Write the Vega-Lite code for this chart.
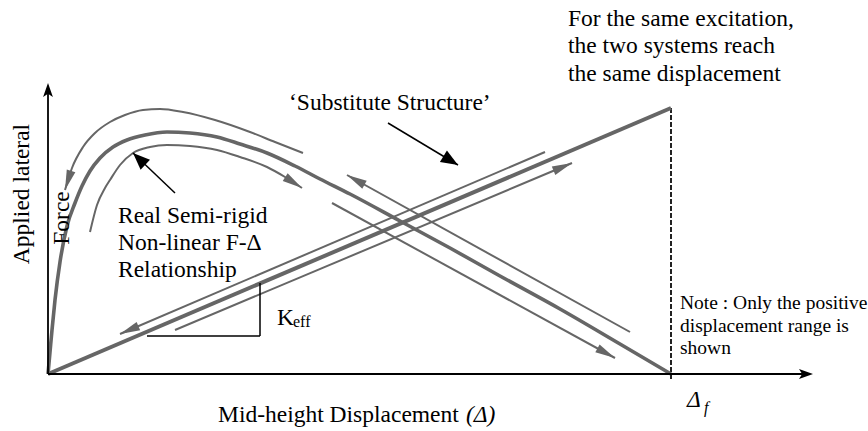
{
  "$schema": "https://vega.github.io/schema/vega-lite/v6.json",
  "width": 868,
  "height": 431,
  "autosize": {"type": "none"},
  "padding": 0,
  "background": "white",
  "config": {"view": {"stroke": null}, "font": "'Liberation Serif', 'Times New Roman', Times, 'DejaVu Serif', serif"},
  "datasets": {
    "curves": [
      {"curve": "backbone", "X": 0, "Y": 0}, {"curve": "backbone", "X": 2, "Y": 22}, {"curve": "backbone", "X": 4, "Y": 44},
      {"curve": "backbone", "X": 7, "Y": 74}, {"curve": "backbone", "X": 12, "Y": 112}, {"curve": "backbone", "X": 19, "Y": 148},
      {"curve": "backbone", "X": 27, "Y": 171}, {"curve": "backbone", "X": 34, "Y": 188}, {"curve": "backbone", "X": 42, "Y": 203},
      {"curve": "backbone", "X": 52, "Y": 216}, {"curve": "backbone", "X": 65, "Y": 227}, {"curve": "backbone", "X": 79, "Y": 234},
      {"curve": "backbone", "X": 97, "Y": 239}, {"curve": "backbone", "X": 119, "Y": 242}, {"curve": "backbone", "X": 142, "Y": 241},
      {"curve": "backbone", "X": 169, "Y": 237}, {"curve": "backbone", "X": 192, "Y": 230}, {"curve": "backbone", "X": 219, "Y": 221},
      {"curve": "backbone", "X": 247, "Y": 208}, {"curve": "backbone", "X": 272, "Y": 195}, {"curve": "backbone", "X": 302, "Y": 180},
      {"curve": "backbone", "X": 352, "Y": 153}, {"curve": "backbone", "X": 402, "Y": 126}, {"curve": "backbone", "X": 452, "Y": 98},
      {"curve": "backbone", "X": 512, "Y": 65}, {"curve": "backbone", "X": 572, "Y": 30}, {"curve": "backbone", "X": 623, "Y": 0},
      {"curve": "unload", "X": 17, "Y": 184}, {"curve": "unload", "X": 24, "Y": 206}, {"curve": "unload", "X": 35, "Y": 227},
      {"curve": "unload", "X": 47, "Y": 241}, {"curve": "unload", "X": 62, "Y": 252}, {"curve": "unload", "X": 77, "Y": 259},
      {"curve": "unload", "X": 95, "Y": 264}, {"curve": "unload", "X": 112, "Y": 265}, {"curve": "unload", "X": 135, "Y": 262},
      {"curve": "unload", "X": 167, "Y": 254}, {"curve": "unload", "X": 202, "Y": 242}, {"curve": "unload", "X": 227, "Y": 232},
      {"curve": "unload", "X": 255, "Y": 221},
      {"curve": "reload", "X": 42, "Y": 142}, {"curve": "reload", "X": 49, "Y": 169}, {"curve": "reload", "X": 57, "Y": 186},
      {"curve": "reload", "X": 62, "Y": 194}, {"curve": "reload", "X": 72, "Y": 209}, {"curve": "reload", "X": 85, "Y": 221},
      {"curve": "reload", "X": 102, "Y": 227}, {"curve": "reload", "X": 119, "Y": 229}, {"curve": "reload", "X": 142, "Y": 228},
      {"curve": "reload", "X": 169, "Y": 224}, {"curve": "reload", "X": 192, "Y": 217}, {"curve": "reload", "X": 219, "Y": 207},
      {"curve": "reload", "X": 237, "Y": 197}, {"curve": "reload", "X": 254, "Y": 186}
    ],
    "segments": [
      {"kind": "axis", "X": 0, "Y": 0, "X2": 760, "Y2": 0},
      {"kind": "axis", "X": 0, "Y": 0, "X2": 0, "Y2": 286},
      {"kind": "substitute", "X": 0, "Y": 0, "X2": 623, "Y2": 266},
      {"kind": "limit", "X": 623, "Y": 266, "X2": 623, "Y2": -7},
      {"kind": "path", "X": 582, "Y": 42, "X2": 299, "Y2": 199},
      {"kind": "path", "X": 284, "Y": 171, "X2": 567, "Y2": 16},
      {"kind": "path", "X": 497, "Y": 222, "X2": 72, "Y2": 40},
      {"kind": "path", "X": 127, "Y": 44, "X2": 524, "Y2": 211},
      {"kind": "pointer", "X": 340, "Y": 251, "X2": 410, "Y2": 209},
      {"kind": "pointer", "X": 127, "Y": 181, "X2": 85, "Y2": 221},
      {"kind": "keff", "X": 99, "Y": 38, "X2": 212, "Y2": 38},
      {"kind": "keff", "X": 212, "Y": 38, "X2": 212, "Y2": 91}
    ],
    "heads": [
      {"kind": "axis", "X": 765, "Y": 0, "FX": 0, "FY": 0},
      {"kind": "axis", "X": 0, "Y": 291, "FX": 0, "FY": 0},
      {"kind": "pointer", "X": 410, "Y": 209, "FX": 340, "FY": 251},
      {"kind": "pointer", "X": 85, "Y": 221, "FX": 127, "FY": 181},
      {"kind": "path", "X": 17, "Y": 184, "FX": 24, "FY": 206},
      {"kind": "path", "X": 254, "Y": 186, "FX": 237, "FY": 197},
      {"kind": "path", "X": 299, "Y": 199, "FX": 582, "FY": 42},
      {"kind": "path", "X": 567, "Y": 16, "FX": 284, "FY": 171},
      {"kind": "path", "X": 72, "Y": 40, "FX": 497, "FY": 222},
      {"kind": "path", "X": 524, "Y": 211, "FX": 127, "FY": 44}
    ],
    "texts": [
      {"group": "main", "label": "Real Semi-rigid", "X": 70, "Y": 158},
      {"group": "main", "label": "Non-linear F-Δ", "X": 70, "Y": 131},
      {"group": "main", "label": "Relationship", "X": 70, "Y": 104},
      {"group": "main", "label": "‘Substitute Structure’", "X": 241, "Y": 271},
      {"group": "main", "label": "For the same excitation,", "X": 520, "Y": 355},
      {"group": "main", "label": "the two systems reach", "X": 520, "Y": 328},
      {"group": "main", "label": "the same displacement", "X": 520, "Y": 300},
      {"group": "main", "label": "Mid-height Displacement", "X": 170, "Y": -41},
      {"group": "main", "label": "K", "X": 229, "Y": 56},
      {"group": "vertical", "label": "Applied lateral", "X": -26, "Y": 180},
      {"group": "vertical", "label": "Force", "X": 14, "Y": 156},
      {"group": "italic", "label": "(Δ)", "X": 418, "Y": -41},
      {"group": "italic", "label": "Δ", "X": 639, "Y": -26},
      {"group": "sub", "label": "eff", "X": 245, "Y": 52},
      {"group": "subitalic", "label": "f", "X": 656, "Y": -34},
      {"group": "note", "label": "Note : Only the positive", "X": 632, "Y": 71},
      {"group": "note", "label": "displacement range is", "X": 632, "Y": 48},
      {"group": "note", "label": "shown", "X": 632, "Y": 26}
    ]
  },
  "encoding": {
    "x": {"field": "X", "type": "quantitative", "scale": {"domain": [-48, 820], "nice": false, "zero": false}, "axis": null},
    "y": {"field": "Y", "type": "quantitative", "scale": {"domain": [-57, 374], "nice": false, "zero": false}, "axis": null}
  },
  "layer": [
    {
      "data": {"name": "segments"},
      "transform": [{"filter": "datum.kind === 'limit'"}],
      "mark": {"type": "rule", "color": "#222222", "strokeWidth": 2, "strokeDash": [5, 2]},
      "encoding": {"x2": {"field": "X2"}, "y2": {"field": "Y2"}}
    },
    {
      "data": {"name": "segments"},
      "transform": [{"filter": "datum.kind === 'substitute'"}],
      "mark": {"type": "rule", "color": "#666666", "strokeWidth": 4},
      "encoding": {"x2": {"field": "X2"}, "y2": {"field": "Y2"}}
    },
    {
      "data": {"name": "curves"},
      "transform": [{"filter": "datum.curve === 'backbone'"}],
      "mark": {"type": "line", "color": "#666666", "strokeWidth": 3.6, "interpolate": "monotone"},
      "encoding": {}
    },
    {
      "data": {"name": "curves"},
      "transform": [{"filter": "datum.curve !== 'backbone'"}],
      "mark": {"type": "line", "color": "#666666", "strokeWidth": 2, "interpolate": "monotone"},
      "encoding": {"detail": {"field": "curve"}}
    },
    {
      "data": {"name": "segments"},
      "transform": [{"filter": "datum.kind === 'path'"}],
      "mark": {"type": "rule", "color": "#666666", "strokeWidth": 2},
      "encoding": {"x2": {"field": "X2"}, "y2": {"field": "Y2"}}
    },
    {
      "data": {"name": "heads"},
      "transform": [
        {"filter": "datum.kind === 'path'"},
        {"calculate": "atan2(datum.X - datum.FX, datum.Y - datum.FY) * 180 / PI", "as": "angle"}
      ],
      "mark": {"type": "point", "shape": "M0,0L0.45,2L-0.45,2Z", "filled": true, "size": 400, "color": "#666666", "opacity": 1, "strokeWidth": 0},
      "encoding": {"angle": {"field": "angle", "type": "quantitative", "scale": null}}
    },
    {
      "data": {"name": "segments"},
      "transform": [{"filter": "datum.kind === 'axis'"}],
      "mark": {"type": "rule", "color": "#000000", "strokeWidth": 1.8},
      "encoding": {"x2": {"field": "X2"}, "y2": {"field": "Y2"}}
    },
    {
      "data": {"name": "segments"},
      "transform": [{"filter": "datum.kind === 'pointer' || datum.kind === 'keff'"}],
      "mark": {"type": "rule", "color": "#000000", "strokeWidth": 1.5},
      "encoding": {"x2": {"field": "X2"}, "y2": {"field": "Y2"}}
    },
    {
      "data": {"name": "heads"},
      "transform": [
        {"filter": "datum.kind === 'pointer'"},
        {"calculate": "atan2(datum.X - datum.FX, datum.Y - datum.FY) * 180 / PI", "as": "angle"}
      ],
      "mark": {"type": "point", "shape": "M0,0L0.8,2L-0.8,2Z", "filled": true, "size": 289, "color": "#000000", "opacity": 1, "strokeWidth": 0},
      "encoding": {"angle": {"field": "angle", "type": "quantitative", "scale": null}}
    },
    {
      "data": {"name": "heads"},
      "transform": [
        {"filter": "datum.kind === 'axis'"},
        {"calculate": "atan2(datum.X - datum.FX, datum.Y - datum.FY) * 180 / PI", "as": "angle"}
      ],
      "mark": {"type": "point", "shape": "M0,0L0.7,2L0,1.55L-0.7,2Z", "filled": true, "size": 196, "color": "#000000", "opacity": 1, "strokeWidth": 0},
      "encoding": {"angle": {"field": "angle", "type": "quantitative", "scale": null}}
    },
    {
      "data": {"name": "texts"},
      "transform": [{"filter": "datum.group === 'main'"}],
      "mark": {"type": "text", "fontSize": 23.5, "align": "left", "baseline": "middle", "color": "#000000"},
      "encoding": {"text": {"field": "label"}}
    },
    {
      "data": {"name": "texts"},
      "transform": [{"filter": "datum.group === 'vertical'"}],
      "mark": {"type": "text", "fontSize": 23.5, "align": "center", "baseline": "middle", "angle": 270, "color": "#000000"},
      "encoding": {"text": {"field": "label"}}
    },
    {
      "data": {"name": "texts"},
      "transform": [{"filter": "datum.group === 'italic'"}],
      "mark": {"type": "text", "fontSize": 23.5, "fontStyle": "italic", "align": "left", "baseline": "middle", "color": "#000000"},
      "encoding": {"text": {"field": "label"}}
    },
    {
      "data": {"name": "texts"},
      "transform": [{"filter": "datum.group === 'sub'"}],
      "mark": {"type": "text", "fontSize": 16, "align": "left", "baseline": "middle", "color": "#000000"},
      "encoding": {"text": {"field": "label"}}
    },
    {
      "data": {"name": "texts"},
      "transform": [{"filter": "datum.group === 'subitalic'"}],
      "mark": {"type": "text", "fontSize": 16, "fontStyle": "italic", "align": "left", "baseline": "middle", "color": "#000000"},
      "encoding": {"text": {"field": "label"}}
    },
    {
      "data": {"name": "texts"},
      "transform": [{"filter": "datum.group === 'note'"}],
      "mark": {"type": "text", "fontSize": 19.5, "align": "left", "baseline": "middle", "color": "#000000"},
      "encoding": {"text": {"field": "label"}}
    }
  ]
}
